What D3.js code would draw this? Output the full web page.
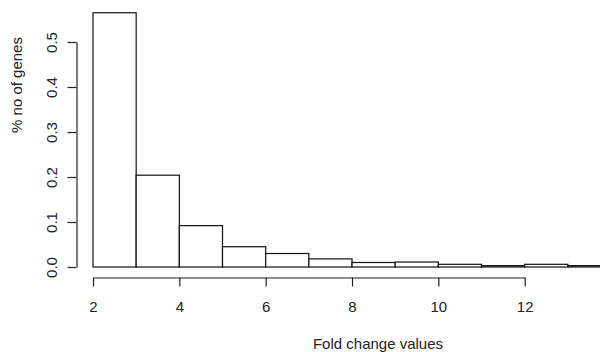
<!DOCTYPE html>
<html>
<head>
<meta charset="utf-8">
<script src="https://cdn.jsdelivr.net/npm/d3@7"></script>
<style>
  body { margin: 0; background: #fff; }
  text { font-family: "Liberation Sans", Arial, sans-serif; fill: #222; }
</style>
</head>
<body>
<div id="chart"></div>
<script>
// histogram bins (fold change) and proportion of genes in each
var binStarts = [2, 3, 4, 5, 6, 7, 8, 9, 10, 11, 12, 13]
var binWidth = 1
var proportions = [0.565, 0.204, 0.092, 0.045, 0.030, 0.018, 0.010, 0.011, 0.006, 0.003, 0.006, 0.003]
var xTicks = [2, 4, 6, 8, 10, 12]
var yTicks = [0.0, 0.1, 0.2, 0.3, 0.4, 0.5]

var width = 600
var height = 352

var svg = d3.select("#chart").append("svg")
  .attr("width", width)
  .attr("height", height)

var x = d3.scaleLinear().domain([2, 12]).range([93, 524.7])
var y = d3.scaleLinear().domain([0, 0.5]).range([267, 42])

// bars
svg.append("g")
  .selectAll("rect")
  .data(binStarts)
  .join("rect")
    .attr("x", d => x(d))
    .attr("width", d => x(d + binWidth) - x(d))
    .attr("y", (d, i) => y(proportions[i]))
    .attr("height", (d, i) => y(0) - y(proportions[i]))
    .attr("fill", "white")
    .attr("stroke", "#111")
    .attr("stroke-width", 1.2)

// x axis
var xAxis = svg.append("g")
  .attr("transform", "translate(0,277.5)")
  .call(d3.axisBottom(x).tickValues(xTicks).tickSize(9).tickPadding(15).tickSizeOuter(0))
xAxis.select(".domain").attr("stroke", "#222").attr("stroke-width", 1.2)
xAxis.selectAll(".tick line").attr("stroke", "#222").attr("stroke-width", 1.2)
xAxis.selectAll(".tick text").style("font-size", "15px").attr("fill", "#222")

// y axis
var yAxis = svg.append("g")
  .attr("transform", "translate(76.5,0)")
  .call(d3.axisLeft(y).tickValues(yTicks).tickFormat(d3.format(".1f")).tickSize(9).tickSizeOuter(0))
yAxis.select(".domain").attr("stroke", "#222").attr("stroke-width", 1.2)
yAxis.selectAll(".tick line").attr("stroke", "#222").attr("stroke-width", 1.2)
yAxis.selectAll(".tick text")
  .style("font-size", "15px")
  .attr("fill", "#222")
  .attr("x", null).attr("dy", null)
  .attr("text-anchor", "middle")
  .attr("transform", "translate(-19.5,0) rotate(-90)")

// titles
svg.append("text")
  .attr("x", 378)
  .attr("y", 349)
  .attr("text-anchor", "middle")
  .style("font-size", "15px")
  .text("Fold change values")

svg.append("text")
  .attr("transform", "translate(22,85) rotate(-90)")
  .attr("text-anchor", "middle")
  .style("font-size", "15px")
  .text("% no of genes")
</script>
</body>
</html>
